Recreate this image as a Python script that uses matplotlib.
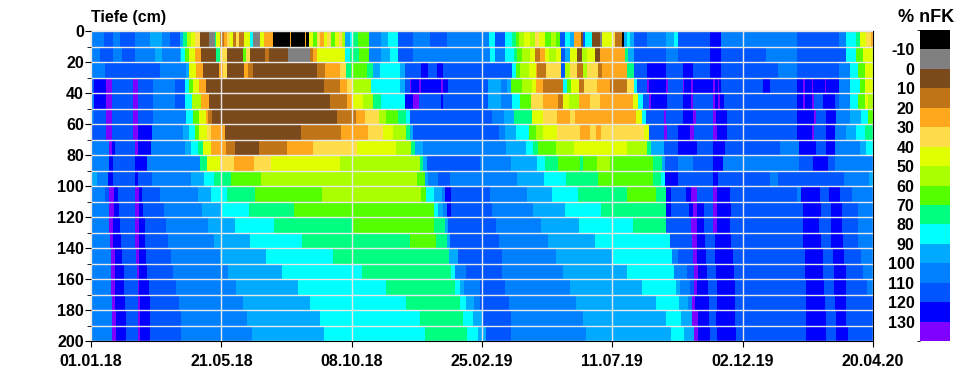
import numpy as np
import matplotlib
matplotlib.use('Agg')
import matplotlib.pyplot as plt
from matplotlib.colors import ListedColormap, BoundaryNorm

plt.rcParams['font.family'] = ['Liberation Sans', 'DejaVu Sans']
plt.rcParams['font.weight'] = 'bold'
plt.rcParams['axes.unicode_minus'] = False

# (letzter Tag, % nFK) je Tiefenstufe, Tag 0 = 01.01.18
row_00 = [(14,105),(24,115),(31,105),(47,115),(63,105),(76,95),(85,105),(96,115),(99,95),(103,75),(107,55),(112,45),(117,35),(127,5),(133,-5),(134,75),(139,45),(143,15),(146,25),(149,35),(153,45),(156,15),(159,35),(164,15),(171,45),(174,85),(181,-5),(186,45),(195,25),(214,-15),(215,25),(224,-15),(225,25),(230,-15),(231,25),(234,-15),(238,45),(243,65),(246,35),(250,25),(254,45),(258,35),(262,65),(266,45),(270,35),(273,55),(278,95),(280,85),(287,75),(299,65),(312,105),(319,95),(330,85),(346,115),(364,105),(382,115),(428,105),(434,85),(445,115),(452,85),(456,75),(460,65),(465,55),(472,45),(477,55),(481,35),(488,45),(494,65),(499,55),(504,65),(509,115),(515,85),(519,95),(526,25),(529,5),(531,115),(538,85),(547,5),(549,-5),(560,45),(563,35),(570,15),(573,-15),(576,95),(579,85),(583,95),(597,115),(618,105),(626,95),(631,85),(665,115),(677,125),(758,105),(780,115),(804,115),(811,105),(822,85),(826,75),(833,45),(838,35),(840,25)]
row_01 = [(10,105),(24,115),(33,105),(47,115),(69,105),(76,95),(96,105),(97,95),(101,85),(105,65),(112,45),(118,25),(134,5),(139,75),(146,35),(163,5),(166,65),(171,35),(187,5),(191,15),(212,5),(235,-5),(239,15),(243,25),(250,45),(273,45),(278,85),(288,75),(299,65),(312,105),(321,95),(330,85),(346,115),(429,105),(434,85),(445,105),(454,85),(458,75),(463,65),(472,55),(477,45),(482,15),(488,25),(492,45),(499,55),(505,45),(509,115),(515,95),(522,45),(527,5),(533,55),(541,45),(547,5),(574,25),(577,75),(583,95),(597,115),(618,115),(631,105),(665,115),(677,125),(725,115),(758,105),(811,115),(822,85),(829,65),(840,45)]
row_02 = [(15,105),(74,115),(102,105),(105,95),(113,45),(120,25),(137,5),(142,25),(146,35),(164,5),(169,25),(174,15),(243,5),(251,15),(267,25),(274,35),(279,75),(296,65),(303,75),(310,95),(332,85),(337,95),(355,115),(362,125),(372,115),(378,125),(444,115),(452,115),(456,85),(461,65),(470,55),(478,45),(479,25),(485,15),(486,35),(489,15),(505,35),(509,115),(515,55),(522,35),(529,15),(533,55),(545,35),(549,15),(576,25),(583,75),(597,115),(618,125),(636,115),(647,125),(665,115),(677,125),(738,115),(758,105),(804,115),(815,105),(824,85),(831,65),(840,45)]
row_03 = [(3,115),(16,125),(23,135),(45,115),(51,135),(67,115),(90,105),(101,115),(105,85),(110,65),(116,45),(124,25),(250,5),(267,15),(275,25),(280,35),(301,55),(332,85),(337,95),(343,115),(344,135),(352,125),(354,135),(376,125),(378,135),(384,125),(426,115),(440,95),(447,105),(451,95),(463,65),(474,55),(478,45),(486,25),(507,15),(511,85),(516,65),(524,45),(530,15),(544,35),(557,25),(576,15),(583,35),(586,85),(597,115),(599,135),(618,125),(620,135),(636,115),(637,135),(645,125),(647,135),(668,125),(670,135),(673,125),(675,135),(677,125),(688,115),(722,115),(729,125),(758,115),(765,125),(767,135),(774,125),(776,135),(788,125),(790,135),(804,125),(815,105),(826,85),(831,65),(840,45)]
row_04 = [(3,105),(16,125),(23,135),(45,115),(50,135),(67,115),(90,105),(101,115),(108,85),(118,55),(127,25),(257,5),(275,15),(280,25),(292,45),(303,55),(312,75),(337,85),(346,125),(352,135),(376,115),(378,125),(426,115),(440,95),(452,105),(461,85),(473,65),(486,35),(502,25),(507,15),(513,45),(524,55),(536,25),(547,35),(582,25),(588,45),(593,85),(599,115),(601,135),(619,125),(636,115),(645,125),(647,135),(668,115),(670,135),(674,125),(676,135),(680,125),(688,115),(758,115),(765,125),(767,135),(775,125),(777,135),(786,115),(799,125),(804,115),(815,105),(824,85),(831,65),(835,45),(840,55)]
row_05 = [(3,105),(16,115),(23,135),(45,115),(50,135),(67,115),(102,105),(110,85),(116,65),(124,45),(126,25),(130,15),(264,5),(285,15),(294,25),(309,35),(317,55),(330,65),(338,75),(343,85),(431,115),(444,105),(454,95),(474,75),(485,45),(501,35),(515,25),(520,35),(585,25),(592,45),(596,85),(615,115),(618,135),(636,115),(647,125),(650,135),(668,115),(671,135),(683,125),(758,115),(777,125),(779,135),(790,115),(800,125),(815,105),(827,95),(835,85),(840,65)]
row_06 = [(16,115),(23,135),(45,115),(51,135),(66,125),(99,105),(105,95),(112,85),(116,65),(125,45),(129,35),(144,25),(226,5),(269,15),(298,25),(314,35),(324,45),(338,55),(343,75),(346,95),(438,115),(445,105),(456,95),(470,85),(478,65),(486,55),(501,45),(525,35),(536,25),(542,35),(548,25),(594,35),(599,45),(615,115),(619,135),(631,115),(643,125),(648,135),(668,115),(672,135),(683,125),(758,115),(775,125),(777,135),(790,115),(799,125),(811,105),(822,95),(831,85),(840,75)]
row_07 = [(19,105),(23,135),(26,125),(47,115),(51,135),(64,125),(101,105),(107,95),(115,85),(120,75),(129,45),(145,25),(155,15),(180,5),(210,15),(238,25),(286,35),(328,45),(344,55),(348,75),(357,95),(446,105),(467,95),(475,85),(480,75),(499,65),(519,55),(576,45),(597,55),(601,75),(615,95),(631,115),(651,125),(668,115),(681,125),(740,115),(761,105),(779,125),(790,115),(799,125),(826,105),(833,95),(840,85)]
row_08 = [(19,105),(24,125),(47,115),(60,125),(117,105),(125,75),(139,45),(154,35),(175,25),(193,35),(267,45),(353,55),(357,75),(361,95),(418,115),(451,105),(479,95),(488,85),(502,75),(525,65),(529,75),(544,65),(558,55),(604,65),(613,75),(617,95),(631,115),(647,105),(668,115),(679,125),(761,105),(776,115),(792,125),(799,115),(840,105)]
row_09 = [(6,95),(18,105),(24,125),(47,115),(50,125),(65,115),(107,105),(121,95),(132,85),(150,75),(183,65),(350,55),(359,65),(362,95),(373,105),(386,115),(458,105),(487,95),(510,85),(545,75),(604,65),(612,75),(617,85),(631,125),(668,115),(674,125),(729,115),(738,105),(761,115),(809,115),(836,105),(840,95)]
row_10 = [(15,105),(19,115),(25,135),(29,125),(47,115),(52,135),(55,125),(74,115),(115,105),(129,95),(146,85),(176,75),(248,65),(355,55),(360,65),(368,85),(377,95),(380,105),(387,125),(429,115),(468,105),(495,95),(523,85),(576,75),(607,65),(618,75),(623,125),(639,115),(645,125),(651,135),(668,115),(672,135),(686,125),(758,115),(763,105),(776,125),(783,125),(793,115),(805,125),(817,115),(840,105)]
row_11 = [(19,105),(25,135),(30,125),(47,115),(52,135),(56,125),(78,115),(119,105),(140,95),(170,85),(218,75),(368,65),(373,85),(378,95),(382,105),(387,125),(431,115),(475,105),(509,95),(548,85),(618,75),(623,125),(642,115),(647,125),(651,135),(658,125),(668,115),(672,135),(688,125),(765,115),(784,125),(795,115),(807,125),(824,115),(840,105)]
row_12 = [(19,105),(24,135),(31,125),(47,115),(52,135),(58,125),(81,115),(126,105),(155,95),(197,85),(281,75),(368,65),(380,75),(384,95),(435,115),(483,105),(524,95),(582,85),(618,75),(645,115),(651,135),(658,125),(668,115),(672,135),(686,125),(765,115),(782,125),(795,115),(807,125),(824,115),(840,105)]
row_13 = [(20,105),(24,135),(32,125),(47,115),(52,135),(58,125),(83,115),(132,105),(171,95),(227,85),(343,75),(371,65),(382,75),(386,95),(438,115),(491,105),(541,95),(622,85),(646,115),(651,135),(660,125),(670,115),(688,125),(765,115),(784,125),(795,115),(808,125),(824,115),(840,105)]
row_14 = [(21,105),(26,135),(33,125),(48,115),(52,135),(59,125),(86,115),(139,105),(188,95),(260,85),(385,75),(394,95),(441,115),(499,105),(561,95),(624,85),(631,105),(647,115),(651,135),(661,125),(670,115),(690,125),(767,115),(786,125),(797,115),(809,125),(827,115),(840,105)]
row_15 = [(22,105),(26,135),(35,125),(49,115),(52,135),(60,125),(88,115),(147,105),(205,95),(291,85),(387,75),(391,85),(403,105),(442,115),(507,105),(576,95),(626,85),(640,105),(648,115),(652,135),(662,125),(671,115),(691,125),(767,115),(786,125),(798,115),(811,125),(829,115),(840,105)]
row_16 = [(22,105),(26,135),(35,125),(50,115),(52,135),(62,125),(91,115),(156,105),(222,95),(317,85),(391,75),(396,85),(401,95),(418,105),(445,115),(515,105),(592,95),(628,85),(633,95),(643,105),(648,115),(651,135),(663,125),(672,115),(692,125),(768,115),(787,125),(798,115),(811,125),(834,115),(840,105)]
row_17 = [(23,105),(26,135),(37,125),(50,115),(53,135),(63,125),(94,115),(163,105),(235,95),(338,85),(396,75),(403,85),(411,95),(418,105),(449,115),(521,105),(607,95),(632,85),(641,95),(646,105),(649,135),(664,125),(672,115),(692,125),(768,115),(788,125),(799,115),(811,125),(840,115)]
row_18 = [(23,105),(27,135),(38,125),(51,115),(53,135),(63,125),(97,115),(168,105),(246,95),(353,85),(400,75),(410,85),(421,95),(451,115),(529,105),(618,95),(634,85),(646,95),(652,135),(664,125),(671,115),(692,125),(768,115),(790,125),(800,115),(811,125),(840,115)]
row_19 = [(23,105),(27,135),(38,125),(51,115),(53,135),(63,125),(97,115),(173,105),(250,95),(359,85),(404,75),(416,85),(424,95),(451,115),(532,105),(623,95),(637,85),(648,95),(652,135),(665,125),(672,115),(693,125),(768,115),(790,125),(800,115),(813,125),(840,115)]

rows = [row_00, row_01, row_02, row_03, row_04, row_05, row_06, row_07, row_08, row_09,
        row_10, row_11, row_12, row_13, row_14, row_15, row_16, row_17, row_18, row_19]

date_pos = [0, 140, 280, 420, 560, 700, 840]
date_labels = ['01.01.18', '21.05.18', '08.10.18', '25.02.19', '11.07.19', '02.12.19', '20.04.20']

levels = list(range(-20, 150, 10))
farben = ['#000000', '#808080', '#7a4a1c', '#bf7418', '#ffa81e', '#ffdc4a', '#e0ff00', '#aaff00',
          '#55ff00', '#00ff80', '#00ffff', '#00aaff', '#0080ff', '#0055ff', '#0000ff', '#7f00ff']
cmap = ListedColormap(farben)
norm = BoundaryNorm(levels, cmap.N)

# Matrix Tag x Tiefe aus den Abschnitten
feld = np.zeros((20, 840))
for i, r in enumerate(rows):
    start = 0
    for ende, wert in r:
        feld[i, start:ende] = wert
        start = ende
    feld[i, start:] = wert

fig = plt.figure(figsize=(9.63, 3.71), dpi=100)
ax = fig.add_axes([91/963, 1-341/371, 782/963, 310/371])
m = ax.pcolormesh(np.arange(841), np.arange(0, 201, 10), feld, cmap=cmap, norm=norm)
ax.set_xlim(0, 840)
ax.set_ylim(200, 0)
ax.set_xticks(date_pos)
ax.set_xticklabels(date_labels, fontsize=11.5)
ax.set_yticks(np.arange(0, 201, 20))
ax.set_yticks(np.arange(0, 201, 10), minor=True)
ax.tick_params(axis='y', which='major', labelsize=11.5, length=4, pad=1)
ax.tick_params(axis='y', which='minor', length=3)
ax.tick_params(axis='x', length=4, pad=5)
ax.grid(True, which='both', axis='y', color='#e8e8e8', lw=1)
ax.grid(True, which='major', axis='x', color='#e8e8e8', lw=1)
ax.set_axisbelow(False)
ax.text(0, 1.02, 'Tiefe (cm)', transform=ax.transAxes, fontsize=11.5, va='bottom', ha='left')

cax = fig.add_axes([920/963, 1-341/371, 30/963, 311/371])
cb = fig.colorbar(m, cax=cax, boundaries=levels, ticks=levels[1:-1], spacing='uniform')
cb.outline.set_visible(False)
cax.invert_yaxis()
cax.yaxis.set_ticks_position('left')
cax.tick_params(length=0, labelsize=11.5, pad=4)
fig.text(926/963, 1-18/371, '% nFK', fontsize=13, ha='center', va='center')

plt.savefig('out.png', dpi=100)
plt.close()
